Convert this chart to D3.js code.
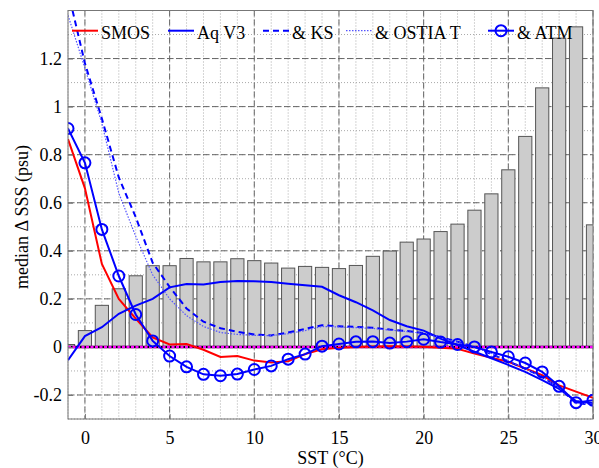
<!DOCTYPE html>
<html>
<head>
<meta charset="utf-8">
<script src="https://cdn.jsdelivr.net/npm/d3@7"></script>
<style>
  body { margin: 0; background: #fff; }
  svg text { font-family: 'Liberation Serif', 'DejaVu Serif', serif; font-size: 18px; fill: #000; }
</style>
</head>
<body>
<div class="board"></div>
<script>
// SST bins (deg C)
var sst = [-1,0,1,2,3,4,5,6,7,8,9,10,11,12,13,14,15,16,17,18,19,20,21,22,23,24,25,26,27,28,29,30];

// grey bars (sample distribution, scaled)
var bars = [0.01,0.068,0.173,0.242,0.296,0.338,0.338,0.368,0.354,0.354,0.367,0.359,0.349,0.328,0.335,0.331,
            0.326,0.339,0.377,0.399,0.436,0.449,0.48,0.511,0.569,0.637,0.737,0.876,1.078,1.285,1.332,0.508];

var smos = [0.865,0.66,0.345,0.2,0.118,0.04,0.01,0.012,-0.012,-0.042,-0.038,-0.057,-0.065,-0.06,-0.03,-0.01,
            -0.004,0,0.002,0.003,0.002,0.001,-0.003,-0.008,-0.028,-0.045,-0.062,-0.09,-0.118,-0.16,-0.186,-0.212];
var aqV3 = [-0.055,0.045,0.082,0.138,0.172,0.2,0.248,0.262,0.26,0.27,0.274,0.273,0.27,0.263,0.257,0.25,
            0.215,0.186,0.152,0.112,0.086,0.068,0.035,0.008,-0.02,-0.047,-0.075,-0.104,-0.138,-0.175,-0.225,-0.235];
var ks = [1.48,1.18,0.95,0.705,0.54,0.35,0.25,0.16,0.105,0.078,0.063,0.052,0.048,0.06,0.075,0.09,
          0.086,0.083,0.08,0.072,0.066,0.058,0.04,0.022,0.0,-0.03,-0.06,-0.09,-0.125,-0.17,-0.235,-0.24];
var ostia = [1.38,1.16,0.93,0.64,0.46,0.3,0.2,0.13,0.085,0.06,0.052,0.048,0.047,0.055,0.068,0.085,
             0.083,0.08,0.077,0.07,0.064,0.056,0.038,0.02,0.0,-0.028,-0.058,-0.09,-0.125,-0.17,-0.232,-0.238];
var atm = [0.909,0.766,0.489,0.295,0.135,0.025,-0.038,-0.083,-0.114,-0.12,-0.113,-0.094,-0.079,-0.051,-0.03,0.003,
           0.012,0.021,0.022,0.016,0.022,0.032,0.02,0.01,0,-0.021,-0.041,-0.067,-0.104,-0.164,-0.232,-0.222];

var xTicks = [0,5,10,15,20,25,30];
var yTicks = [-0.2,0,0.2,0.4,0.6,0.8,1,1.2];

var width = 599, height = 468;
var mLeft = 68, mRight = 593, mTop = 10.5, mBottom = 419;
var serif = "'Liberation Serif', 'DejaVu Serif', serif";

var svg = d3.select('.board').append('svg')
            .attr('width', width)
            .attr('height', height);

var x = d3.scaleLinear().domain([-1, 30]).range([mLeft, mRight]);
var y = d3.scaleLinear().domain([-0.3, 1.4]).range([mBottom, mTop]);

svg.append('clipPath').attr('id', 'plot')
   .append('rect').attr('x', mLeft).attr('y', mTop)
   .attr('width', mRight - mLeft).attr('height', mBottom - mTop);

// minor grid (dotted)
var g = svg.append('g');
g.selectAll('.vmin').data(d3.range(-1, 31)).enter().append('line')
 .attr('x1', function(d) { return x(d); }).attr('x2', function(d) { return x(d); })
 .attr('y1', mTop).attr('y2', mBottom)
 .attr('stroke', '#aaa').attr('stroke-width', 1).attr('stroke-dasharray', '1,2');
g.selectAll('.hmin').data(d3.range(-3, 14).map(function(i) { return i / 10; })).enter().append('line')
 .attr('y1', function(d) { return y(d); }).attr('y2', function(d) { return y(d); })
 .attr('x1', mLeft).attr('x2', mRight)
 .attr('stroke', '#aaa').attr('stroke-width', 1).attr('stroke-dasharray', '1,2');
// major grid (dashed)
g.selectAll('.vmaj').data(xTicks).enter().append('line')
 .attr('x1', function(d) { return x(d); }).attr('x2', function(d) { return x(d); })
 .attr('y1', mTop).attr('y2', mBottom)
 .attr('stroke', '#666').attr('stroke-width', 1).attr('stroke-dasharray', '6,3');
g.selectAll('.hmaj').data(yTicks).enter().append('line')
 .attr('y1', function(d) { return y(d); }).attr('y2', function(d) { return y(d); })
 .attr('x1', mLeft).attr('x2', mRight)
 .attr('stroke', '#666').attr('stroke-width', 1).attr('stroke-dasharray', '6,3');

var plot = svg.append('g').attr('clip-path', 'url(#plot)');

// bars
var bw = 0.78;
plot.selectAll('rect.bar').data(sst).enter().append('rect')
    .attr('class', 'bar')
    .attr('x', function(d) { return x(d - bw / 2); })
    .attr('width', x(bw) - x(0))
    .attr('y', function(d, i) { return y(bars[i]); })
    .attr('height', function(d, i) { return y(0) - y(bars[i]); })
    .attr('fill', '#cccccc')
    .attr('stroke', '#555')
    .attr('stroke-width', 1);

// zero line
plot.append('line').attr('x1', mLeft).attr('x2', mRight)
    .attr('y1', y(0)).attr('y2', y(0))
    .attr('stroke', '#000').attr('stroke-width', 2.5);
plot.append('line').attr('x1', mLeft).attr('x2', mRight)
    .attr('y1', y(0)).attr('y2', y(0))
    .attr('stroke', '#ff00ff').attr('stroke-width', 2.5).attr('stroke-dasharray', '3,1.5');

var line = d3.line()
             .x(function(d, i) { return x(sst[i]); })
             .y(function(d) { return y(d); });

var series = [
  { name: 'SMOS', data: smos, color: '#ff0000', w: 2, dash: null },
  { name: 'Aq V3', data: aqV3, color: '#0000ff', w: 2, dash: null },
  { name: '& KS', data: ks, color: '#0000ff', w: 2, dash: '6,4' },
  { name: '& OSTIA T', data: ostia, color: '#5555ff', w: 1.2, dash: '1.5,1.5' },
  { name: '& ATM', data: atm, color: '#0000ff', w: 2, dash: null, marker: true }
];

series.forEach(function(s) {
  plot.append('path')
      .attr('d', line(s.data))
      .attr('fill', 'none')
      .attr('stroke', s.color)
      .attr('stroke-width', s.w)
      .attr('stroke-dasharray', s.dash);
  if (s.marker) {
    plot.selectAll('circle.m').data(s.data).enter().append('circle')
        .attr('cx', function(d, i) { return x(sst[i]); })
        .attr('cy', function(d) { return y(d); })
        .attr('r', 5.5)
        .attr('fill', 'none')
        .attr('stroke', s.color)
        .attr('stroke-width', 2);
  }
});

// axes frame
svg.append('rect').attr('x', mLeft).attr('y', mTop)
   .attr('width', mRight - mLeft).attr('height', mBottom - mTop)
   .attr('fill', 'none').attr('stroke', '#777').attr('stroke-width', 1);

var xAxis = svg.append('g').attr('transform', 'translate(0,' + mBottom + ')')
               .call(d3.axisBottom(x).tickValues(xTicks).tickSize(-5).tickPadding(10)
               .tickFormat(d3.format('d')));
var yAxis = svg.append('g').attr('transform', 'translate(' + mLeft + ',0)')
               .call(d3.axisLeft(y).tickValues(yTicks).tickSize(-5).tickPadding(6)
               .tickFormat(function(d) { return String(+d.toFixed(1)); }));
[xAxis, yAxis].forEach(function(a) {
  a.select('.domain').remove();
  a.attr('font-family', serif).attr('font-size', 18);
  a.selectAll('line').attr('stroke', '#777');
  a.selectAll('text').attr('fill', '#000')
   .style('font-family', serif).style('font-size', '18px');
});
xAxis.selectAll('text').attr('dy', '0.85em');

// axis labels
svg.append('text').attr('x', (mLeft + mRight) / 2).attr('y', 464)
   .attr('text-anchor', 'middle').style('font-family', serif).text('SST (°C)');
svg.append('text').attr('transform', 'translate(28,' + 217 + ') rotate(-90)')
   .attr('text-anchor', 'middle').style('font-family', serif).text('median Δ SSS (psu)');

// legend
var legendX = [72, 168, 263, 346, 488];
var ly = 30.7;
var leg = svg.append('g');
series.forEach(function(s, i) {
  var lx = legendX[i];
  leg.append('line').attr('x1', lx).attr('x2', lx + 26).attr('y1', ly).attr('y2', ly)
     .attr('stroke', s.color).attr('stroke-width', s.w).attr('stroke-dasharray', s.dash);
  if (s.marker) {
    leg.append('circle').attr('cx', lx + 13).attr('cy', ly).attr('r', 5.5)
       .attr('fill', 'none').attr('stroke', s.color).attr('stroke-width', 2);
  }
  leg.append('text').attr('x', lx + 29).attr('y', ly + 8.5)
     .style('font-family', serif).text(s.name);
});
</script>
</body>
</html>
